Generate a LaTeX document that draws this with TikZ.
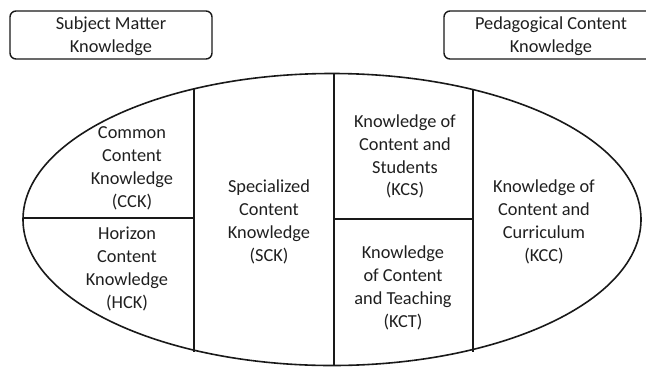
\documentclass[tikz,border=0pt]{standalone}
\usepackage{fontspec}
\setmainfont{Carlito}
\begin{document}
\begin{tikzpicture}[x=1bp,y=-1bp,
  line/.style={draw=black!90, line width=1.6bp},
  hdrbox/.style={draw=black!90, line width=1.4bp, rounded corners=6bp},
  lbl/.style={align=center, text=black!88, font=\fontsize{18.4}{23}\selectfont, inner sep=0pt}]
\useasboundingbox (0,0) rectangle (646,366);
\begin{scope}
\clip (0,0) rectangle (646,366);
% header boxes
\draw[hdrbox] (10,11) rectangle (212,59);
\draw[hdrbox] (444,11) rectangle (652,59);
% ellipse
\coordinate (c) at (332,219.5);
\draw[line] (c) ellipse [x radius=309, y radius=146];
% dividers
\coordinate (t0) at (334,73.5);
\coordinate (b0) at (334,365.5);
\draw[line] (t0) -- (b0);
\coordinate (t1) at (194,89);
\coordinate (b1) at (194,352);
\draw[line] (t1) -- (b1);
\coordinate (t2) at (473,90);
\coordinate (b2) at (473,352);
\draw[line] (t2) -- (b2);
\coordinate (hl0) at (23,218);
\coordinate (hl1) at (194,218);
\draw[line] (hl0) -- (hl1);
\coordinate (hr0) at (334,219);
\coordinate (hr1) at (473,219);
\draw[line] (hr0) -- (hr1);
\end{scope}
% labels
\node[lbl] (smk) at (111,36) {Subject Matter\\Knowledge};
\node[lbl] (pck) at (551,36) {Pedagogical Content\\Knowledge};
\node[lbl] (cck) at (132,168.5) {Common\\Content\\Knowledge\\(CCK)};
\node[lbl] (hck) at (127,269) {Horizon\\Content\\Knowledge\\(HCK)};
\node[lbl] (sck) at (269,222) {Specialized\\Content\\Knowledge\\(SCK)};
\node[lbl] (kcs) at (405,156.5) {Knowledge of\\Content and\\Students\\(KCS)};
\node[lbl] (kct) at (403,288) {Knowledge\\of Content\\and Teaching\\(KCT)};
\node[lbl] (kcc) at (544,222) {Knowledge of\\Content and\\Curriculum\\(KCC)};
\end{tikzpicture}
\end{document}
